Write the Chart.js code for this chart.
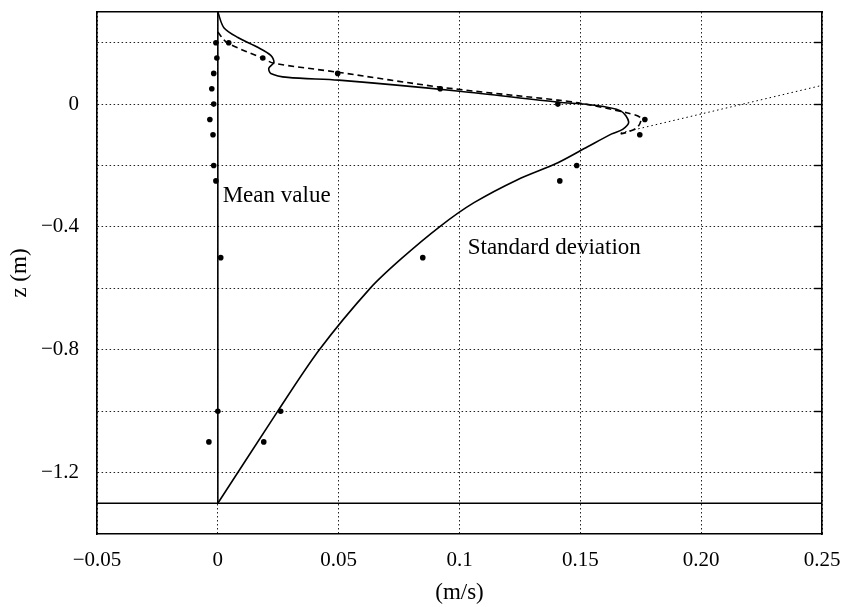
<!DOCTYPE html>
<html>
<head>
<meta charset="utf-8">
<script src="https://cdn.jsdelivr.net/npm/chart.js@4.4.1/dist/chart.umd.min.js"></script>
<style>
  body { margin: 0; background: #fff; }
  #wrap { width: 845px; height: 607px; }
</style>
</head>
<body>
<div id="wrap"><canvas id="profile" width="845" height="607"></canvas></div>
<script>
// axis ticks
const xTicks = [-0.05, 0, 0.05, 0.1, 0.15, 0.2, 0.25];
const xTickLabels = ['\u22120.05', '0', '0.05', '0.1', '0.15', '0.20', '0.25'];
const yTicks = [-1.2, -1.0, -0.8, -0.6, -0.4, -0.2, 0, 0.2];
const yTickLabels = ['\u22121.2', '', '\u22120.8', '', '\u22120.4', '', '0', ''];

// mean value line (solid, at x = 0)
const meanLineX = [0, 0];
const meanLineZ = [-1.3, 0.3];

// bottom level line
const bedX = [-0.05, 0.25];
const bedZ = [-1.3, -1.3];

// standard deviation, solid curve
const stdCurveX = [0, 0.0025, 0.0083, 0.0165, 0.0219, 0.0232, 0.0211, 0.0219, 0.029, 0.050, 0.100, 0.141, 0.154, 0.1667, 0.170, 0.1675, 0.163, 0.153, 0.1407, 0.124, 0.106, 0.092, 0.0757, 0.063, 0.042, 0.0248, 0];
const stdCurveZ = [0.3, 0.249, 0.217, 0.185, 0.159, 0.136, 0.117, 0.100, 0.087, 0.078, 0.042, 0.006, -0.002, -0.022, -0.058, -0.082, -0.097, -0.139, -0.191, -0.246, -0.321, -0.398, -0.505, -0.6, -0.8, -1.0, -1.3];

// standard deviation, dashed curve
const stdDashX = [0, 0.002, 0.0041, 0.0186, 0.0232, 0.0496, 0.0923, 0.1407, 0.150, 0.1696, 0.175, 0.1738, 0.1696, 0.1667];
const stdDashZ = [0.235, 0.214, 0.198, 0.149, 0.133, 0.104, 0.055, 0.013, 0.003, -0.029, -0.045, -0.074, -0.091, -0.097];

// dotted extension
const stdDotX = [0.1667, 0.25];
const stdDotZ = [-0.094, 0.061];

// measured points
const pointZ = [0.2, 0.15, 0.1, 0.05, 0, -0.05, -0.1, -0.2, -0.25, -0.5, -1.0, -1.1];
const meanPointX = [-0.0008, -0.0004, -0.0017, -0.0025, -0.0017, -0.0033, -0.002, -0.0017, -0.0008, 0.0012, 0, -0.0037];
const stdPointX = [0.0045, 0.0186, 0.0496, 0.092, 0.1407, 0.1767, 0.1746, 0.1485, 0.1415, 0.0848, 0.026, 0.019];

// text labels in the plot
const notes = [
  { text: 'Mean value', x: 0.002, z: -0.30 },
  { text: 'Standard deviation', x: 0.1034, z: -0.47 }
];

const serif = '"Liberation Serif", "DejaVu Serif", serif';
const pts = (xs, zs) => xs.map((x, i) => ({ x: x, y: zs[i] }));

const lineSet = (data, extra) => Object.assign({
  data: data,
  showLine: true,
  borderColor: '#000',
  borderWidth: 1.6,
  pointRadius: 0,
  fill: false
}, extra);

// fixed box sizes, no extra label padding so the plot area matches
const fixBox = size => axis => {
  if (axis.isHorizontal()) axis.height = size; else axis.width = size;
  axis.paddingTop = 0;
  axis.paddingBottom = 0;
  axis.paddingLeft = 0;
  axis.paddingRight = 0;
};

const notesPlugin = {
  id: 'notes',
  afterDatasetsDraw(chart) {
    const ctx = chart.ctx;
    const xs = chart.scales.x, ys = chart.scales.y;
    ctx.save();
    ctx.fillStyle = '#000';
    ctx.font = '23px ' + serif;
    ctx.textAlign = 'left';
    ctx.textBaseline = 'middle';
    notes.forEach(n => {
      ctx.fillText(n.text, xs.getPixelForValue(n.x), ys.getPixelForValue(n.z));
    });
    ctx.restore();
  }
};

const ctx = document.getElementById('profile').getContext('2d');
new Chart(ctx, {
  type: 'scatter',
  data: {
    datasets: [
      lineSet(pts(meanLineX, meanLineZ)),
      lineSet(pts(bedX, bedZ), { borderWidth: 1.4 }),
      lineSet(pts(stdCurveX, stdCurveZ), { tension: 0.3 }),
      lineSet(pts(stdDashX, stdDashZ), { tension: 0.3, borderDash: [6, 4] }),
      lineSet(pts(stdDotX, stdDotZ), { borderWidth: 1, borderDash: [1.5, 3] }),
      { data: pts(meanPointX, pointZ), pointRadius: 2.8, pointBackgroundColor: '#000', pointBorderWidth: 0, showLine: false },
      { data: pts(stdPointX, pointZ), pointRadius: 2.8, pointBackgroundColor: '#000', pointBorderWidth: 0, showLine: false }
    ]
  },
  options: {
    responsive: false,
    animation: false,
    layout: { padding: 0 },
    plugins: { legend: { display: false }, tooltip: { enabled: false } },
    scales: {
      x: {
        type: 'linear',
        position: 'bottom',
        min: -0.05,
        max: 0.25,
        afterBuildTicks: axis => { axis.ticks = xTicks.map(v => ({ value: v })); },
        afterFit: fixBox(73),
        ticks: {
          color: '#000',
          padding: 14,
          maxRotation: 0,
          autoSkip: false,
          font: { family: serif, size: 21 },
          callback: (v, i) => xTickLabels[i]
        },
        grid: { color: '#222', lineWidth: 1, drawTicks: false },
        border: { display: true, color: '#000', width: 1.6, dash: [1.5, 2.5] },
        title: { display: true, text: '(m/s)', color: '#000', font: { family: serif, size: 23 }, padding: { top: 0, bottom: 0 } }
      },
      x2: {
        type: 'linear',
        position: 'top',
        min: -0.05,
        max: 0.25,
        afterFit: fixBox(12),
        ticks: { display: false },
        grid: { drawOnChartArea: false, drawTicks: false },
        border: { display: true, color: '#000', width: 1.6 }
      },
      y: {
        type: 'linear',
        position: 'left',
        min: -1.4,
        max: 0.3,
        afterBuildTicks: axis => { axis.ticks = yTicks.map(v => ({ value: v })); },
        afterFit: fixBox(97),
        ticks: {
          color: '#000',
          padding: 18,
          autoSkip: false,
          font: { family: serif, size: 21 },
          callback: (v, i) => yTickLabels[i]
        },
        grid: { color: '#222', lineWidth: 1, drawTicks: false },
        border: { display: true, color: '#000', width: 1.6, dash: [1.5, 2.5] },
        title: { display: true, text: 'z (m)', color: '#000', font: { family: serif, size: 23 }, padding: { top: 6, bottom: 0 } }
      },
      y2: {
        type: 'linear',
        position: 'right',
        min: -1.4,
        max: 0.3,
        afterBuildTicks: axis => { axis.ticks = yTicks.map(v => ({ value: v })); },
        afterFit: fixBox(23),
        ticks: { display: false },
        grid: { drawOnChartArea: false, drawTicks: true, tickLength: -8, tickColor: '#000', tickWidth: 1.4 },
        border: { display: true, color: '#000', width: 1.6 }
      }
    }
  },
  plugins: [notesPlugin]
});
</script>
</body>
</html>
